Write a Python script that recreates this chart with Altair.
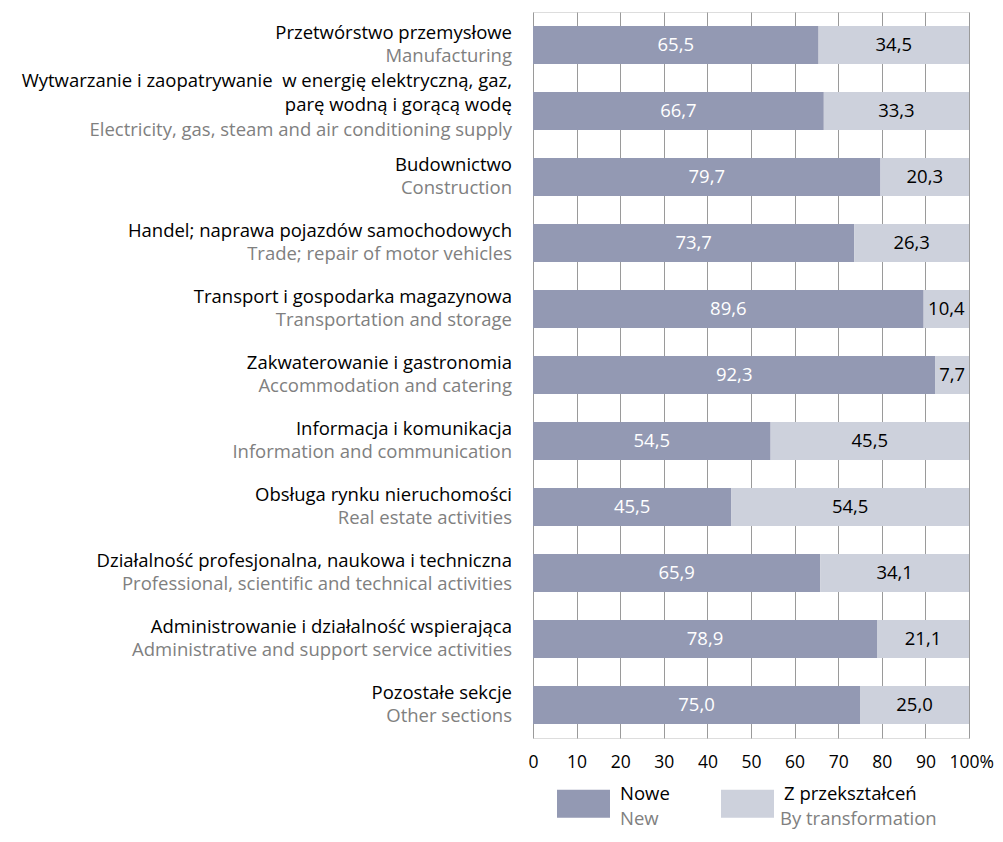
import altair as alt
import pandas as pd

pl_line1 = [
    "Przetwórstwo przemysłowe",
    "Wytwarzanie i zaopatrywanie\u00a0 w energię elektryczną, gaz,",
    "Budownictwo",
    "Handel; naprawa pojazdów samochodowych",
    "Transport i gospodarka magazynowa",
    "Zakwaterowanie i gastronomia",
    "Informacja i komunikacja",
    "Obsługa rynku nieruchomości",
    "Działalność profesjonalna, naukowa i techniczna",
    "Administrowanie i działalność wspierająca",
    "Pozostałe sekcje",
]
pl_line2 = ["", "parę wodną i gorącą wodę", "", "", "", "", "", "", "", "", ""]
en_labels = [
    "Manufacturing",
    "Electricity, gas, steam and air conditioning supply",
    "Construction",
    "Trade; repair of motor vehicles",
    "Transportation and storage",
    "Accommodation and catering",
    "Information and communication",
    "Real estate activities",
    "Professional, scientific and technical activities",
    "Administrative and support service activities",
    "Other sections",
]
new_vals = [65.5, 66.7, 79.7, 73.7, 89.6, 92.3, 54.5, 45.5, 65.9, 78.9, 75.0]
trans_vals = [34.5, 33.3, 20.3, 26.3, 10.4, 7.7, 45.5, 54.5, 34.1, 21.1, 25.0]
series_pl = ["Nowe", "Z przekształceń"]
series_en = ["New", "By transformation"]
colors = ["#9399b3", "#cdd1dc"]
x_ticks = [0, 10, 20, 30, 40, 50, 60, 70, 80, 90, 100]

FONT = "Open Sans"
FS = 18.5

rows = []
for i, cat in enumerate(pl_line1):
    for s, vals in enumerate([new_vals, trans_vals]):
        rows.append({
            "cat": cat, "pl2": pl_line2[i], "en": en_labels[i],
            "series": series_pl[s], "series_en": series_en[s],
            "order": s, "value": vals[i],
        })
df = pd.DataFrame(rows)
labels_df = pd.DataFrame({"cat": pl_line1, "pl2": pl_line2, "en": en_labels})

y_enc = alt.Y("cat:N", sort=pl_line1, axis=None,
              scale=alt.Scale(paddingInner=0.424, paddingOuter=0.212))

base = alt.Chart(df).transform_stack(
    stack="value", groupby=["cat"], as_=["v0", "v1"],
    sort=[alt.SortField("order", order="ascending")],
).transform_calculate(
    mid="(datum.v0 + datum.v1) / 2",
    label="replace(format(datum.value, '.1f'), '.', ',')",
)

bar_path = "M-1,-0.528H1V0.528H-1Z"

bars = base.mark_bar(strokeWidth=0).encode(
    x=alt.X("v0:Q", scale=alt.Scale(domain=[0, 100], nice=False),
            axis=alt.Axis(values=x_ticks, title=None, grid=True, gridColor="#9a9a9a",
                          gridWidth=1, domain=False, ticks=False,
                          labelFont=FONT, labelFontSize=17.5, labelColor="#000000",
                          labelPadding=15,
                          labelExpr="datum.value == 100 ? '100%' : datum.label",
                          labelAlign=alt.condition("datum.value == 100", alt.value("left"), alt.value("center")),
                          labelOffset=alt.condition("datum.value == 100", alt.value(-20), alt.value(0)),
                          )),
    x2="v1:Q",
    y=y_enc,
    color=alt.Color("series:N", scale=alt.Scale(domain=series_pl, range=colors),
                    legend=alt.Legend(title=None, orient="none", direction="horizontal",
                                      legendX=24, legendY=765, padding=0,
                                      symbolType=bar_path, symbolSize=2809,
                                      symbolStrokeWidth=0, symbolOpacity=1,
                                      labelFont=FONT, labelFontSize=FS, labelColor="#000000",
                                      labelOffset=10, labelBaseline="bottom",
                                      columnPadding=51)),
)

ghost = base.mark_point(opacity=0, filled=True).encode(
    x="mid:Q",
    y=y_enc,
    shape=alt.Shape("series_en:N", scale=alt.Scale(domain=series_en, range=[bar_path, bar_path]),
                    legend=alt.Legend(title=None, orient="none", direction="horizontal",
                                      legendX=24, legendY=790, padding=0,
                                      symbolType=bar_path, symbolSize=2809,
                                      symbolOpacity=0, symbolStrokeWidth=0,
                                      labelFont=FONT, labelFontSize=FS, labelColor="#808080",
                                      labelOffset=10, labelBaseline="bottom",
                                      columnPadding=58)),
)

values_text = base.mark_text(font=FONT, fontSize=FS, baseline="middle", align="center").encode(
    x="mid:Q",
    y=y_enc,
    text="label:N",
    color=alt.condition("datum.order == 0", alt.value("#ffffff"), alt.value("#000000")),
)

lab = alt.Chart(labels_df)
one = lab.transform_filter("datum.pl2 == ''")
two = lab.transform_filter("datum.pl2 != ''")

t_kw = dict(font=FONT, fontSize=FS, align="right", baseline="middle")
pl1_single = one.mark_text(dy=-12, color="#000000", **t_kw).encode(x=alt.value(-21), y=y_enc, text="cat:N")
en_single = one.mark_text(dy=11, color="#808080", **t_kw).encode(x=alt.value(-21), y=y_enc, text="en:N")
pl1_double = two.mark_text(dy=-30, color="#000000", **t_kw).encode(x=alt.value(-21), y=y_enc, text="cat:N")
pl2_double = two.mark_text(dy=-6, color="#000000", **t_kw).encode(x=alt.value(-21), y=y_enc, text="pl2:N")
en_double = two.mark_text(dy=19, color="#808080", **t_kw).encode(x=alt.value(-21), y=y_enc, text="en:N")

chart = alt.layer(
    bars, ghost, values_text, pl1_single, en_single, pl1_double, pl2_double, en_double
).resolve_scale(shape="independent", color="independent").properties(
    width=436, height=726,
    autosize=alt.AutoSizeParams(type="none"),
    padding={"left": 525, "top": 4, "right": 26, "bottom": 94},
).configure_view(stroke=None).configure(background="#ffffff")

chart.save("out.html", embed_options={"renderer": "svg", "actions": False})
